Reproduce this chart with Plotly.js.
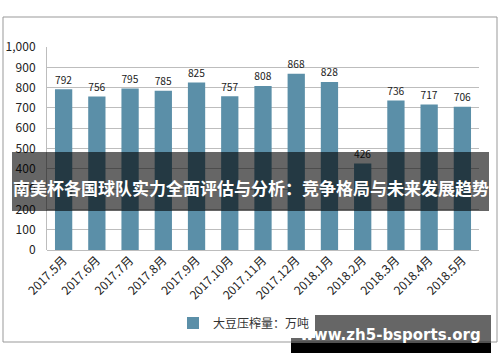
<!DOCTYPE html>
<html><head><meta charset="utf-8">
<script src="https://cdn.plot.ly/plotly-3.0.1.min.js"></script>
<style>html,body{margin:0;padding:0;background:#fff}#chart{width:500px;height:362px}</style>
</head><body><div id="chart"></div>
<script>
const months = ["2017.5月","2017.6月","2017.7月","2017.8月","2017.9月","2017.10月","2017.11月","2017.12月","2018.1月","2018.2月","2018.3月","2018.4月","2018.5月"];
const crushVolume = [792,756,795,785,825,757,808,868,828,426,736,717,706];
const seriesName = "大豆压榨量：万吨";
const yTicks = [0,100,200,300,400,500,600,700,800,900,1000];
const bannerText = "南美杯各国球队实力全面评估与分析：竞争格局与未来发展趋势";
const watermarkText = "www.zh5-bsports.org";

const W = 500, H = 362;
const m = {l:47, r:21, t:47, b:112};
const pw = W - m.l - m.r, ph = H - m.t - m.b;
const px = x => (x - m.l) / pw;
const py = y => (H - m.b - y) / ph;
const font = "'Noto Sans CJK SC', 'Noto Sans', sans-serif";

const trace = {
  type: 'bar', x: months, y: crushVolume, name: seriesName,
  marker: {color: '#5b8fa8'},
  text: crushVolume.map(String), textposition: 'outside', cliponaxis: false,
  textfont: {size: 12, color: '#222', family: font}
};

const layout = {
  width: W, height: H, margin: m,
  paper_bgcolor: '#fff', plot_bgcolor: '#fff',
  bargap: 0.48,
  font: {family: font, size: 12, color: '#333'},
  showlegend: true,
  legend: {orientation: 'h', x: px(173), xanchor: 'left', y: py(323), yanchor: 'middle',
           font: {size: 12, color: '#333'}, itemwidth: 30},
  xaxis: {tickangle: -45, tickfont: {size: 12, color: '#222'}, showgrid: false,
          showline: false, ticks: '', automargin: false, fixedrange: true},
  yaxis: {range: [0, 1000], tickvals: yTicks, tickformat: ',d', ticklabelstandoff: 8,
          tickfont: {size: 12, color: '#222'}, showgrid: true, gridcolor: '#bdbdbd', gridwidth: 1,
          showline: true, linecolor: '#bdbdbd', zeroline: true, zerolinecolor: '#bdbdbd',
          ticks: '', automargin: false, fixedrange: true},
  shapes: [
    {type:'rect', xref:'paper', yref:'paper', x0:px(3), x1:px(497), y0:py(342), y1:py(17),
     line:{color:'#999', width:1}, fillcolor:'rgba(0,0,0,0)', layer:'below'},
    {type:'rect', xref:'paper', yref:'paper', x0:px(12), x1:px(489), y0:py(211), y1:py(152),
     line:{width:0}, fillcolor:'rgba(0,0,0,0.6)', layer:'above'},
    {type:'rect', xref:'paper', yref:'paper', x0:px(291), x1:px(491), y0:py(343), y1:py(315),
     line:{width:0}, fillcolor:'rgba(0,0,0,0.6)', layer:'above'},
    {type:'rect', xref:'paper', yref:'paper', x0:px(291), x1:px(491), y0:py(353), y1:py(343),
     line:{width:0}, fillcolor:'#000', layer:'above'}
  ],
  annotations: [
    {text: bannerText, xref:'paper', yref:'paper', x:px(250.5), y:py(187), xanchor:'center', yanchor:'middle',
     showarrow:false, font:{family: "'Noto Sans CJK SC', sans-serif", size:17, color:'#fff', weight:'bold'}},
    {text: watermarkText, xref:'paper', yref:'paper', x:px(390), y:py(335), xanchor:'center', yanchor:'middle',
     showarrow:false, font:{family: "'DejaVu Sans', sans-serif", size:15, color:'#fff', weight:'bold'}}
  ]
};

Plotly.newPlot('chart', [trace], layout, {displayModeBar: false, staticPlot: true});
</script></body></html>
